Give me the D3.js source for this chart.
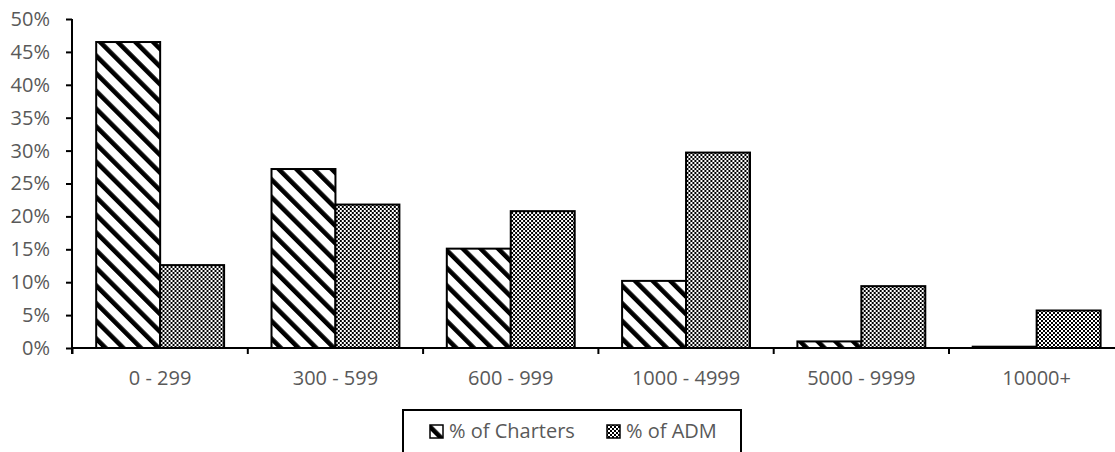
<!DOCTYPE html>
<html>
<head>
<meta charset="utf-8">
<script src="https://cdn.jsdelivr.net/npm/d3@7"></script>
<style>
  html, body { margin: 0; padding: 0; background: #fff; }
  svg { display: block; }
  text { font-family: "Open Sans", "Noto Sans", sans-serif; font-size: 20px; fill: #595959; }
</style>
</head>
<body>
<svg id="chart" width="1115" height="452"></svg>
<script>
const categories = ["0 - 299", "300 - 599", "600 - 999", "1000 - 4999", "5000 - 9999", "10000+"];
const seriesNames = ["% of Charters", "% of ADM"];
const chartersPct = [46.5, 27.2, 15.1, 10.2, 1.0, 0.2];
const admPct = [12.6, 21.8, 20.8, 29.7, 9.4, 5.7];
const yTickValues = [0, 5, 10, 15, 20, 25, 30, 35, 40, 45, 50];

const rows = categories.map((c, i) => ({ cat: c, vals: [chartersPct[i], admPct[i]] }));

const svg = d3.select("#chart");
const defs = svg.append("defs");

// Wide downward diagonal stripes
const stripe = defs.append("pattern")
  .attr("id", "stripes").attr("patternUnits", "userSpaceOnUse")
  .attr("width", 12.5).attr("height", 12.5)
  .attr("patternTransform", "rotate(-45)");
stripe.append("rect").attr("width", 12.5).attr("height", 12.5).attr("fill", "#fff");
stripe.append("rect").attr("x", 0).attr("width", 4.6).attr("height", 12.5).attr("fill", "#000");

// Small checker / dotted pattern
const dots = defs.append("pattern")
  .attr("id", "dots").attr("patternUnits", "userSpaceOnUse")
  .attr("width", 4).attr("height", 4);
dots.append("rect").attr("width", 4).attr("height", 4).attr("fill", "#fff");
dots.append("rect").attr("x", 0).attr("y", 0).attr("width", 2).attr("height", 2).attr("fill", "#000");
dots.append("rect").attr("x", 2).attr("y", 2).attr("width", 2).attr("height", 2).attr("fill", "#000");

const fills = ["url(#stripes)", "url(#dots)"];

const x0 = d3.scaleBand().domain(categories).range([72.5, 72.5 + 6 * 175.3]).padding(0);
const x1 = d3.scaleBand().domain([0, 1]).range([23.7, x0.bandwidth() - 23.7]).padding(0);
const y = d3.scaleLinear().domain([0, 50]).range([348, 19]);

// Bars
const g = svg.append("g");
const groups = g.selectAll("g.cat").data(rows).join("g")
  .attr("class", "cat")
  .attr("transform", d => `translate(${x0(d.cat)},0)`);
groups.selectAll("rect").data(d => d.vals.map((v, i) => ({ v, i }))).join("rect")
  .attr("x", d => x1(d.i))
  .attr("width", x1.bandwidth())
  .attr("y", d => y(d.v))
  .attr("height", d => y(0) - y(d.v))
  .attr("fill", d => fills[d.i])
  .attr("stroke", "#000")
  .attr("stroke-width", 2);

// Y axis
const yAxis = d3.axisLeft(y).tickValues(yTickValues).tickSize(6).tickSizeOuter(0)
  .tickFormat(d => d + "%").tickPadding(16);
const yg = svg.append("g").attr("transform", "translate(72,0)").call(yAxis);
yg.select(".domain").remove();
yg.selectAll(".tick line").attr("stroke", "#000").attr("stroke-width", 2);
yg.selectAll(".tick text").attr("fill", "#595959")
  .style("font-family", '"Open Sans", "Noto Sans", sans-serif').style("font-size", "20px");
yg.append("line").attr("x1", 0).attr("x2", 0).attr("y1", y(50)).attr("y2", y(0) + 6)
  .attr("stroke", "#000").attr("stroke-width", 2);

// X axis
const xg = svg.append("g");
xg.append("line").attr("x1", 72).attr("x2", 1115).attr("y1", y(0)).attr("y2", y(0))
  .attr("stroke", "#000").attr("stroke-width", 2);
const boundaries = categories.map(c => x0(c));
xg.selectAll("line.tk").data(boundaries).join("line").attr("class", "tk")
  .attr("x1", d => d).attr("x2", d => d)
  .attr("y1", y(0)).attr("y2", y(0) + 6)
  .attr("stroke", "#000").attr("stroke-width", 2);
xg.selectAll("text").data(categories).join("text")
  .attr("x", d => x0(d) + x0.bandwidth() / 2)
  .attr("y", 385)
  .attr("text-anchor", "middle")
  .text(d => d);

// Legend
const lg = svg.append("g");
lg.append("rect").attr("x", 403).attr("y", 410).attr("width", 338).attr("height", 60)
  .attr("fill", "#fff").attr("stroke", "#000").attr("stroke-width", 2);
const legendX = [430, 607];
seriesNames.forEach((name, i) => {
  lg.append("rect").attr("x", legendX[i]).attr("y", 425).attr("width", 13).attr("height", 13)
    .attr("fill", fills[i]).attr("stroke", "#000").attr("stroke-width", 1.5);
  lg.append("text").attr("x", legendX[i] + 19).attr("y", 438).text(name);
});
</script>
</body>
</html>
